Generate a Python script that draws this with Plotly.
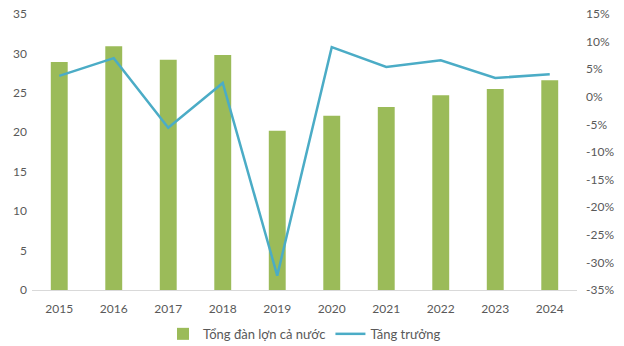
import plotly.graph_objects as go

years = ["2015", "2016", "2017", "2018", "2019", "2020", "2021", "2022", "2023", "2024"]
herd = [28.9, 30.9, 29.2, 29.8, 20.2, 22.1, 23.2, 24.7, 25.5, 26.6]
growth = [3.8, 7.0, -5.6, 2.5, -32.4, 9.0, 5.4, 6.6, 3.4, 4.1]

left_ticks = [0, 5, 10, 15, 20, 25, 30, 35]
right_ticks = [15, 10, 5, 0, -5, -10, -15, -20, -25, -30, -35]

fig = go.Figure()
fig.add_trace(go.Bar(x=years, y=herd, name="Tổng đàn lợn cả nước",
                     marker=dict(color="#9BBB59", line=dict(width=0)), width=0.31))
fig.add_trace(go.Scatter(x=years, y=growth, name="Tăng trưởng", mode="lines",
                         line=dict(color="#4BACC6", width=2.5), yaxis="y2"))

font = dict(family="Lato, Open Sans, sans-serif", size=12, color="#595959")
fig.update_layout(
    width=624, height=346,
    margin=dict(l=32, r=47, t=14, b=56),
    paper_bgcolor="white", plot_bgcolor="white",
    font=font,
    showlegend=True,
    legend=dict(orientation="h", x=0.5, xanchor="center", yref="container",
                y=0.035, yanchor="middle",
                font=dict(size=13, color="#595959"), itemwidth=30, traceorder="normal",
                tracegroupgap=0, bgcolor="rgba(0,0,0,0)"),
    xaxis=dict(showgrid=False, showline=True, linecolor="#D9D9D9", linewidth=1,
               ticks="", tickfont=dict(size=12, color="#595959"), ticklabelstandoff=8,
               fixedrange=True, automargin=False),
    yaxis=dict(range=[0, 35], tickvals=left_ticks, showgrid=False, zeroline=False,
               showline=False, tickfont=dict(size=12, color="#595959"), ticklabelstandoff=4,
               automargin=False),
    yaxis2=dict(range=[-35, 15], tickvals=right_ticks,
                ticktext=[f"{v}%" for v in right_ticks], overlaying="y", side="right",
                showgrid=False, zeroline=False, showline=False,
                tickfont=dict(size=12, color="#595959"), ticklabelstandoff=8,
                automargin=False),
    bargap=0.69,
)
fig.write_html("out.html")
